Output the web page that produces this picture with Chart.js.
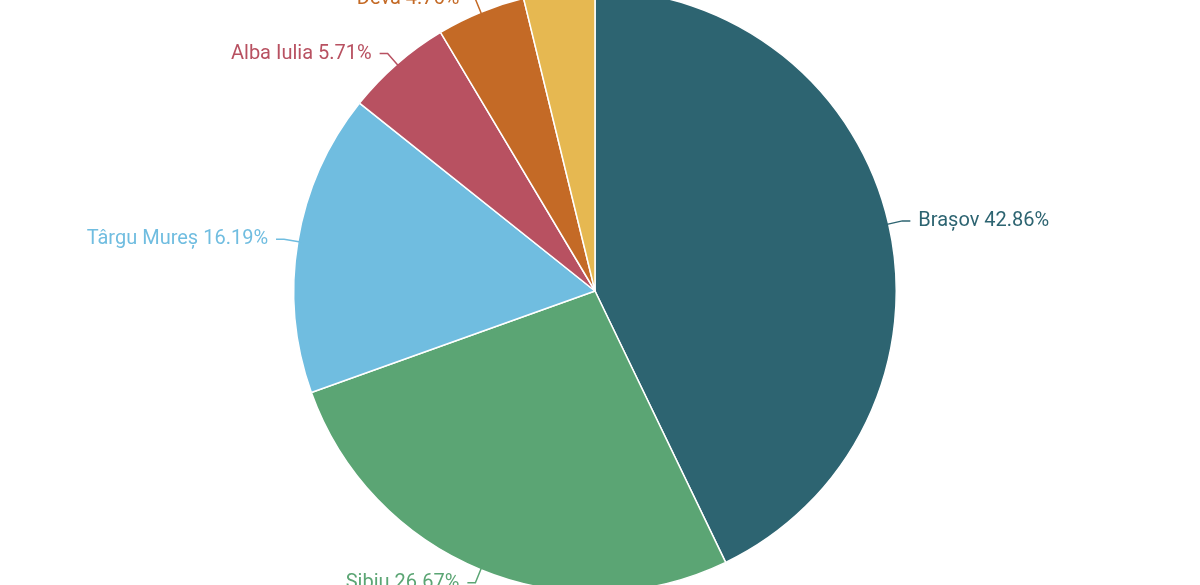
<!DOCTYPE html>
<html><head><meta charset="utf-8">
<script src="https://cdn.jsdelivr.net/npm/chart.js@4/dist/chart.umd.min.js"></script>
<style>html,body{margin:0;padding:0;width:1200px;height:585px;overflow:hidden;background:#fff}
#wrap{position:absolute;left:0;top:-11px;width:1200px;height:604px}</style>
</head><body><div id="wrap"><canvas id="c"></canvas></div>
<script>
const categories = ["Brașov","Sibiu","Târgu Mureș","Alba Iulia","Deva","Sfântu Gheorghe"];
const values = [42.86, 26.67, 16.19, 5.71, 4.76, 3.81];
const colors = ["#2d6471","#5ba574","#70bde0","#b85161","#c46a26","#e6b851"];

const labelPlugin = {
  id:'labels',
  afterDatasetsDraw(chart){
    const ctx = chart.ctx;
    const meta = chart.getDatasetMeta(0);
    ctx.save();
    ctx.font = '20px Roboto';
    ctx.textBaseline = 'middle';
    meta.data.forEach((arc,i)=>{
      const a = (arc.startAngle+arc.endAngle)/2;
      const r = arc.outerRadius;
      const cx = arc.x, cy = arc.y;
      const p0 = [cx+Math.cos(a)*(r-4), cy+Math.sin(a)*(r-4)];
      const p1 = [cx+Math.cos(a)*(r+14), cy+Math.sin(a)*(r+14)];
      const right = Math.cos(a) >= 0;
      const p2 = [p1[0]+(right?8:-8), p1[1]];
      ctx.strokeStyle = colors[i]; ctx.lineWidth = 1.5;
      ctx.beginPath(); ctx.moveTo(p0[0],p0[1]); ctx.lineTo(p1[0],p1[1]); ctx.lineTo(p2[0],p2[1]); ctx.stroke();
      ctx.fillStyle = colors[i];
      ctx.textAlign = right?'left':'right';
      ctx.fillText(categories[i]+' '+values[i].toFixed(2)+'%', p2[0]+(right?8:-8), p2[1]);
    });
    ctx.restore();
  }
};

new Chart(document.getElementById('c'),{
  type:'pie',
  data:{labels:categories,datasets:[{data:values,backgroundColor:colors,borderColor:'#fff',borderWidth:1.5}]},
  options:{responsive:true,maintainAspectRatio:false,animation:false,
    layout:{padding:{left:0,right:10,top:0,bottom:0}},
    plugins:{legend:{display:false},tooltip:{enabled:false}}},
  plugins:[labelPlugin]
});
</script></body></html>
